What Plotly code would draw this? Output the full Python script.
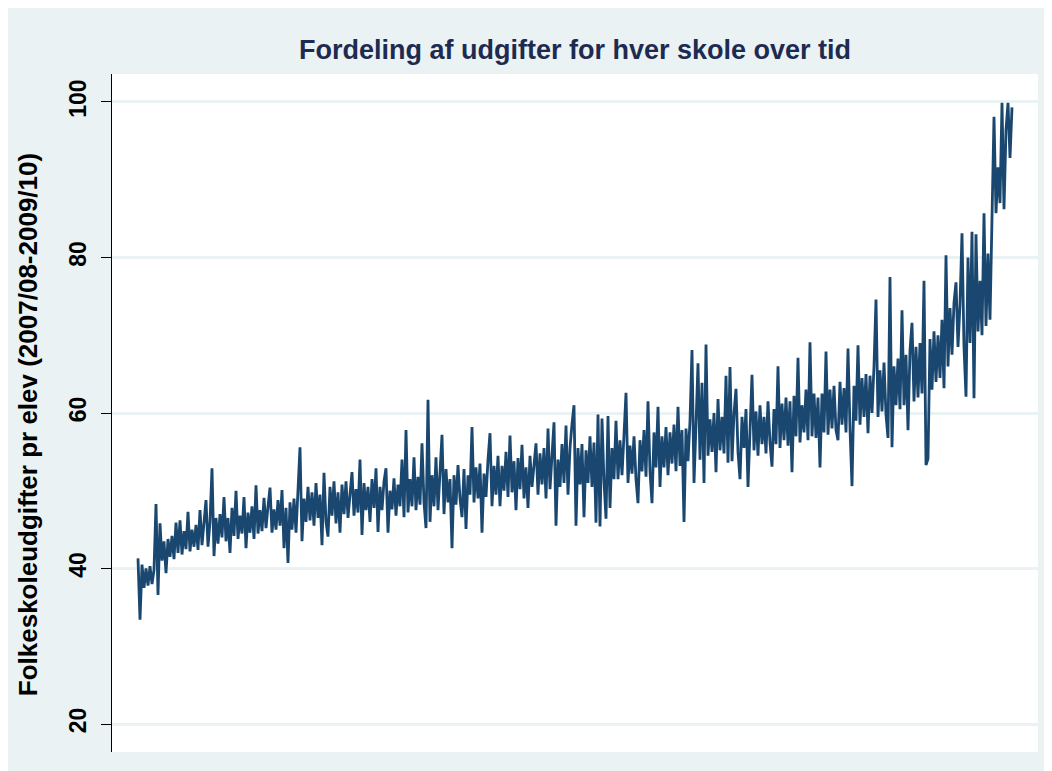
import plotly.graph_objects as go

# Folkeskoleudgifter pr elev, schools ordered by level (each value)
udgifter = [
    41.3, 33.4, 40.5, 37.5, 40.0, 37.8, 40.3, 38.0, 39.8, 48.3, 36.6, 45.8, 41.0, 43.5, 39.4, 43.8, 41.5, 44.2, 41.2, 45.9,
    42.0, 46.2, 41.8, 44.8, 42.5, 47.3, 42.2, 45.0, 42.8, 45.6, 42.4, 47.5, 43.0, 45.5, 48.8, 42.8, 46.0, 52.9, 41.6, 46.5,
    43.2, 47.0, 44.0, 49.2, 43.5, 46.5, 42.0, 47.8, 44.2, 50.0, 43.8, 46.8, 44.5, 49.2, 42.6, 47.2, 44.6, 48.0, 43.8, 50.7,
    44.5, 47.5, 44.8, 49.1, 45.2, 48.0, 50.4, 44.6, 47.6, 45.0, 48.8, 45.5, 50.1, 42.6, 47.8, 40.7, 48.5, 45.0, 49.0, 44.6,
    49.5, 55.6, 43.5, 49.0, 46.0, 50.5, 46.2, 49.8, 45.5, 51.0, 46.5, 49.5, 43.0, 52.3, 46.0, 44.1, 50.5, 46.8, 51.2, 45.8,
    49.8, 44.6, 50.8, 47.0, 51.2, 46.5, 49.5, 52.4, 46.8, 50.2, 47.2, 54.0, 44.3, 51.0, 47.5, 50.5, 46.0, 51.5, 47.8, 52.9,
    44.7, 50.5, 47.5, 51.2, 52.9, 44.6, 50.0, 47.6, 51.6, 46.8, 50.8, 48.0, 54.0, 46.6, 57.8, 47.2, 51.5, 48.0, 54.3, 47.5,
    51.8, 48.2, 56.1, 48.5, 45.2, 61.7, 46.0, 52.0, 48.0, 54.3, 47.5, 52.5, 57.2, 47.0, 52.8, 48.5, 51.5, 42.6, 52.0, 48.2,
    53.3, 49.0, 46.6, 52.8, 45.1, 52.0, 49.5, 58.2, 48.5, 53.0, 49.0, 53.5, 44.6, 52.2, 49.2, 54.0, 57.4, 48.0, 53.2, 49.5,
    54.5, 48.0, 53.2, 50.0, 55.0, 49.2, 57.1, 49.8, 53.8, 47.5, 54.2, 50.2, 55.9, 49.0, 53.0, 47.8, 54.5, 50.5, 53.5, 56.1,
    49.5, 54.8, 50.8, 55.5, 49.0, 58.0, 50.2, 54.5, 58.8, 45.5, 54.0, 50.5, 56.0, 51.0, 58.4, 49.5, 55.5, 58.6, 61.0, 45.5,
    55.5, 50.8, 56.0, 46.6, 55.2, 51.0, 57.0, 50.5, 56.2, 45.9, 59.8, 45.4, 59.3, 51.2, 46.4, 59.6, 47.8, 55.5, 51.5, 59.0,
    51.5, 56.5, 52.0, 57.2, 62.6, 51.0, 55.8, 52.2, 57.0, 51.5, 48.4, 56.5, 52.5, 57.8, 51.8, 61.5, 52.5, 48.4, 57.5, 53.0,
    60.8, 50.5, 57.0, 53.0, 58.2, 52.0, 57.5, 53.5, 58.5, 52.5, 60.8, 53.2, 57.8, 46.0, 58.0, 53.8, 59.0, 68.1, 51.0, 58.5,
    66.4, 54.0, 63.9, 51.0, 68.8, 54.5, 59.2, 55.0, 60.0, 52.4, 61.8, 55.2, 59.5, 54.8, 64.8, 53.6, 65.9, 53.8, 60.0, 63.1,
    55.0, 51.5, 59.5, 55.5, 60.5, 50.5, 59.0, 64.9, 55.2, 60.2, 54.5, 61.0, 56.0, 59.5, 54.8, 61.5, 56.2, 53.1, 60.5, 56.0,
    66.0, 55.5, 61.2, 56.5, 62.0, 55.8, 61.5, 52.4, 62.2, 57.0, 67.1, 56.2, 61.0, 57.5, 63.0, 56.5, 69.1, 57.0, 62.5, 56.8,
    62.0, 53.0, 62.5, 57.5, 67.9, 57.2, 63.0, 58.0, 63.5, 57.8, 56.5, 64.0, 58.5, 63.2, 57.5, 68.3, 58.0, 50.6, 63.5, 59.0,
    68.7, 58.5, 64.5, 59.5, 65.0, 57.4, 64.8, 60.0, 66.0, 74.6, 59.5, 65.5, 60.2, 66.5, 59.8, 56.8, 77.5, 55.6, 66.0, 61.0,
    67.0, 60.5, 73.2, 61.0, 67.5, 57.8, 68.0, 71.6, 61.5, 68.5, 62.0, 69.0, 62.5, 77.0, 53.3, 54.1, 69.5, 63.0, 70.5, 64.0,
    70.0, 64.5, 72.0, 63.2, 80.3, 66.0, 73.5, 67.5, 74.2, 76.8, 68.5, 74.0, 83.1, 68.5, 62.1, 80.0, 69.0, 83.3, 61.9, 83.0,
    70.5, 77.0, 70.0, 85.7, 71.2, 80.5, 72.0, 84.4, 98.1, 85.7, 91.6, 87.0, 99.9, 86.2, 96.4, 99.9, 92.8, 99.3,
]
skole = list(range(len(udgifter)))

y_ticks = [20, 40, 60, 80, 100]
title_text = "Fordeling af udgifter for hver skole over tid"
y_title = "Folkeskoleudgifter pr elev (2007/08-2009/10)"

BG = "#EAF2F3"
LINE = "#1A476F"
FONT = "Liberation Sans, Arial, sans-serif"

fig = go.Figure()
fig.add_trace(go.Scatter(
    x=skole, y=udgifter, mode="lines",
    line=dict(color=LINE, width=2.8), hoverinfo="skip", showlegend=False,
))

fig.add_annotation(text="<b>" + y_title + "</b>", xref="paper", yref="paper", x=-0.0907, y=0.482,
                   textangle=-90, showarrow=False, xanchor="center", yanchor="middle",
                   font=dict(family=FONT, size=26, color="black"))

fig.update_layout(
    width=1052, height=771,
    margin=dict(l=104, r=22, t=66, b=27),
    paper_bgcolor=BG, plot_bgcolor="white",
    title=dict(text="<b>" + title_text + "</b>", x=0.5, xref="paper", xanchor="center",
               y=1 - 42 / 771, yref="container", yanchor="middle",
               font=dict(family=FONT, size=27, color="#1E2B50")),
    xaxis=dict(range=[-13, 450], showgrid=False, showticklabels=False, ticks="",
               zeroline=False, showline=False),
    yaxis=dict(range=[16.4, 103.6], tickvals=y_ticks, ticktext=["<b>%d</b>" % v for v in y_ticks],
               tickangle=-90, ticks="outside", ticklen=10, tickcolor="black", tickwidth=1,
               ticklabelstandoff=6,
               tickfont=dict(family=FONT, size=23, color="black"),
               showline=True, linecolor="black", linewidth=1,
               showgrid=True, gridcolor=BG, gridwidth=2.5, zeroline=False),
)

fig.write_html("out.html")
